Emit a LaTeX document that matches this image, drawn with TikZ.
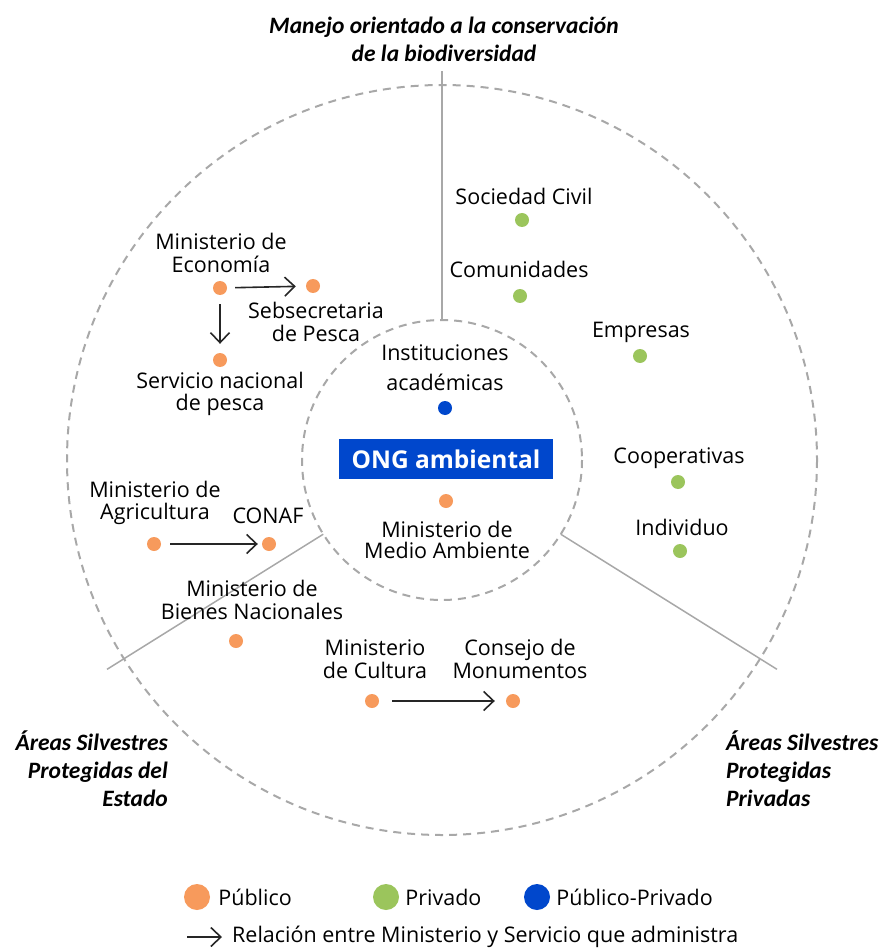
\documentclass[tikz,border=0pt]{standalone}
\usepackage{fontspec}
\setmainfont{Open Sans}
\newfontfamily\zonefont{Carlito}
\usetikzlibrary{positioning,arrows.meta}

\definecolor{publico}{HTML}{F79A5C}
\definecolor{privado}{HTML}{9BC55C}
\definecolor{mixto}{HTML}{0047CC}
\definecolor{ringgray}{HTML}{A8A8A8}

\begin{document}
\begin{tikzpicture}[
    x=1pt, y=-1pt,
    >={Straight Barb[length=10pt,width=19pt]},
    dot/.style={circle, fill=#1, inner sep=0pt, minimum size=14pt},
    bigdot/.style={circle, fill=#1, inner sep=0pt, minimum size=26pt},
    lbl/.style={align=center, inner sep=0pt, font=\fontsize{21.5}{22.5}\selectfont},
    zone/.style={align=#1, inner sep=0pt, font=\zonefont\bfseries\itshape\fontsize{23.5}{28}\selectfont},
    ring/.style={draw=ringgray, line width=2pt, dash pattern=on 8pt off 6pt},
    divider/.style={draw=ringgray, line width=1.5pt},
    rel/.style={->, line width=1.6pt, black!85, shorten <=9pt, shorten >=9pt}
]
\useasboundingbox (0,0) rectangle (879,949);

% Rings and dividers
\coordinate (c) at (442,460);
\draw[ring] (c) circle[radius=375];
\draw[ring] (c) circle[radius=140];
\begin{scope}[shift={(c)}]
    \draw[divider] (270:140) -- (270:389);
    \draw[divider] (148:140) -- (148:395);
    \draw[divider] (32:140) -- (32:395);
\end{scope}

% Zone titles
\node[zone=center] (biodiv) at (444,39) {Manejo orientado a la conservación\\de la biodiversidad};
\node[zone=right, anchor=east] (estado) at (168,769) {Áreas Silvestres\\Protegidas del\\Estado};
\node[zone=left, anchor=west] (privadas) at (726,769) {Áreas Silvestres\\Protegidas\\Privadas};

% Privado
\node[dot=privado] (sc) at (522,220) {};
\node[lbl] at (524,196) {Sociedad Civil};
\node[dot=privado] (com) at (520,296) {};
\node[lbl] at (519,269) {Comunidades};
\node[dot=privado] (emp) at (640,356) {};
\node[lbl] at (641,332) {Empresas};
\node[dot=privado] (coop) at (678,482) {};
\node[lbl] at (679,458) {Cooperativas};
\node[dot=privado] (ind) at (680,551) {};
\node[lbl] at (682,527) {Individuo};

% Centre
\node[dot=mixto] (acad) at (445,408) {};
\node[lbl, font=\fontsize{21.5}{30}\selectfont] at (445,368) {Instituciones\\académicas};
\node[fill=mixto, text=white, minimum width=214pt, minimum height=40pt, inner sep=0pt,
      font=\bfseries\fontsize{24.5}{28}\selectfont] (ong) at (446,459) {ONG ambiental};
\node[dot=publico] (mma) at (446,501) {};
\node[lbl, font=\fontsize{21.5}{21.5}\selectfont] at (447,540) {Ministerio de\\Medio Ambiente};

% Publico
\node[dot=publico] (eco) at (220,288) {};
\node[lbl] at (221,253) {Ministerio de\\Economía};
\node[dot=publico] (seb) at (313,286) {};
\node[lbl] at (316,322) {Sebsecretaria\\de Pesca};
\node[dot=publico] (sern) at (220,360) {};
\node[lbl] at (220,394) {Servicio nacional\\de pesca};
\node[dot=publico] (agri) at (154,544) {};
\node[lbl] at (155,503) {Ministerio de\\Agricultura};
\node[dot=publico] (conaf) at (269,544) {};
\node[lbl] at (268,516) {CONAF};
\node[dot=publico] (bienes) at (236,641) {};
\node[lbl] at (252,600) {Ministerio de\\Bienes Nacionales};
\node[dot=publico] (cult) at (372,701) {};
\node[lbl] at (375,659) {Ministerio\\de Cultura};
\node[dot=publico] (cmn) at (513,701) {};
\node[lbl] at (520,659) {Consejo de\\Monumentos};

% Arrows
\draw[rel, shorten <=8pt, shorten >=10pt] (eco) -- (seb);
\draw[rel] (eco) -- (sern);
\draw[rel, shorten >=4pt] (agri) -- (conaf);
\draw[rel, shorten <=13pt, shorten >=11pt] (cult) -- (cmn);

% Legend
\node[bigdot=publico] (lpub) at (197,897) {};
\node[lbl, right=8pt of lpub] {Público};
\node[bigdot=privado] (lpriv) at (386,897) {};
\node[lbl, right=6pt of lpriv] {Privado};
\node[bigdot=mixto] (lmix) at (537,897) {};
\node[lbl, right=6pt of lmix] {Público-Privado};
\coordinate (la) at (187,937);
\coordinate (lb) at (222,937);
\draw[rel, shorten <=0pt, shorten >=0pt] (la) -- (lb);
\node[lbl, right=10pt of lb] {Relación entre Ministerio y Servicio que administra};

\end{tikzpicture}
\end{document}
